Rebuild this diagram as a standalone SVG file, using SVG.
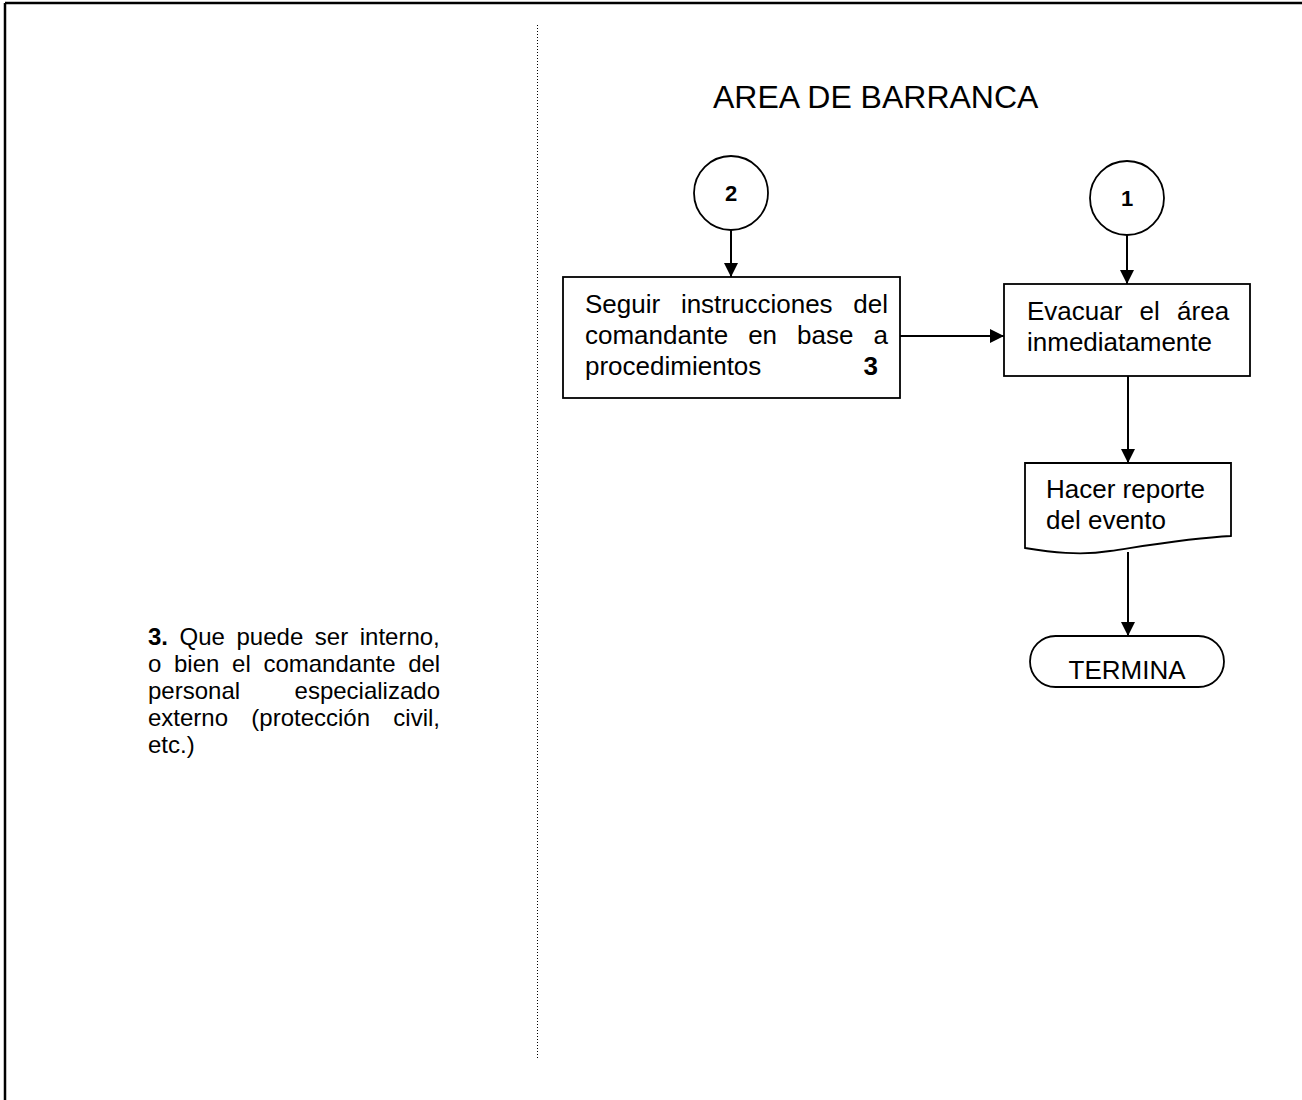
<svg xmlns="http://www.w3.org/2000/svg" width="1302" height="1100" viewBox="0 0 1302 1100">
<defs>
<style>
.t{font-family:"Liberation Sans",Arial,sans-serif;font-size:26px;fill:#000}
.n{font-family:"Liberation Sans",Arial,sans-serif;font-size:24px;fill:#000}
.b{font-weight:bold}
.shape{fill:#fff;stroke:#000;stroke-width:1.8}
.conn{fill:none;stroke:#000;stroke-width:2}
</style>
<marker id="ah" markerUnits="userSpaceOnUse" markerWidth="14" markerHeight="14" viewBox="0 0 14 14" refX="14" refY="7" orient="auto">
<path d="M0,0 L14,7 L0,14 z" fill="#000"/>
</marker>
</defs>
<rect width="1302" height="1100" fill="#fff"/>
<g id="frame">
<line x1="5" y1="3" x2="1302" y2="3" stroke="#000" stroke-width="2.5"/>
<line x1="5" y1="3" x2="5" y2="1100" stroke="#000" stroke-width="2.5"/>
<line x1="537.5" y1="25" x2="537.5" y2="1058" stroke="#000" stroke-width="1" stroke-dasharray="1,2"/>
</g>
<g id="note">
<text class="n" x="148" y="645" word-spacing="4.9"><tspan class="b">3.</tspan> Que puede ser interno,</text>
<text class="n" x="148" y="672" word-spacing="6">o bien el comandante del</text>
<text class="n" x="148" y="699">personal</text>
<text class="n" x="440" y="699" text-anchor="end">especializado</text>
<text class="n" x="148" y="726" word-spacing="16.6">externo (protección civil,</text>
<text class="n" x="148" y="753">etc.)</text>
</g>
<g id="title">
<text class="t" x="713" y="108" style="font-size:32px">AREA DE BARRANCA</text>
</g>
<g id="conn2">
<circle class="shape" cx="731" cy="193" r="37"/>
<text class="t b" x="731" y="201" text-anchor="middle" style="font-size:22px">2</text>
</g>
<g id="conn1">
<circle class="shape" cx="1127" cy="198" r="37"/>
<text class="t b" x="1127" y="206" text-anchor="middle" style="font-size:22px">1</text>
</g>
<g id="seguir">
<rect class="shape" x="563" y="277" width="337" height="121"/>
<text class="t" x="585" y="313" word-spacing="13.5">Seguir instrucciones del</text>
<text class="t" x="585" y="344" word-spacing="12.8">comandante en base a</text>
<text class="t" x="585" y="375">procedimientos</text>
<text class="t b" x="878" y="375" text-anchor="end">3</text>
</g>
<g id="evacuar">
<rect class="shape" x="1004" y="284" width="246" height="92"/>
<text class="t" x="1027" y="320" word-spacing="10">Evacuar el área</text>
<text class="t" x="1027" y="351">inmediatamente</text>
</g>
<g id="reporte">
<path class="shape" d="M1025,463 H1231 V536 C1190,538 1150,545 1110,551 C1080,556 1050,552 1025,548 Z"/>
<text class="t" x="1046" y="498">Hacer reporte</text>
<text class="t" x="1046" y="529">del evento</text>
</g>
<g id="termina">
<rect class="shape" x="1030" y="636" width="194" height="51" rx="25.5" ry="25.5"/>
<text class="t" x="1127" y="679" text-anchor="middle">TERMINA</text>
</g>
<g id="connectors">
<line class="conn" x1="731" y1="230" x2="731" y2="277" marker-end="url(#ah)"/>
<line class="conn" x1="1127" y1="235" x2="1127" y2="284" marker-end="url(#ah)"/>
<line class="conn" x1="900" y1="336" x2="1004" y2="336" marker-end="url(#ah)"/>
<line class="conn" x1="1128" y1="376" x2="1128" y2="463" marker-end="url(#ah)"/>
<line class="conn" x1="1128" y1="552" x2="1128" y2="636" marker-end="url(#ah)"/>
</g>
</svg>
